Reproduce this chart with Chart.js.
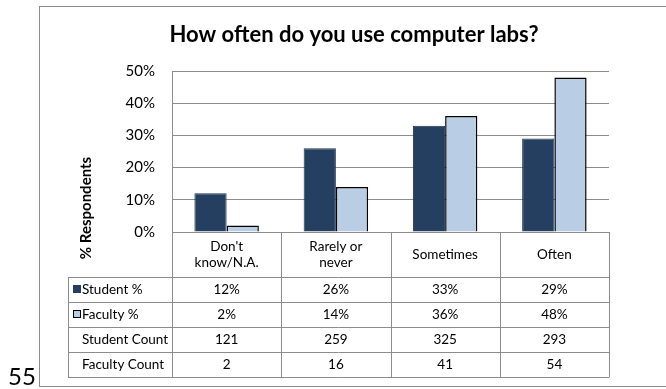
<!DOCTYPE html>
<html lang="en">
<head>
<meta charset="UTF-8">
<title>How often do you use computer labs?</title>
<script src="https://cdn.jsdelivr.net/npm/chart.js"></script>
<style>
  html, body { margin: 0; padding: 0; background: #fff; }
  #wrap { width: 666px; height: 389px; position: relative; }
</style>
</head>
<body>
<div id="wrap"><canvas id="grafico"></canvas></div>
<script>
  const titulo = 'How often do you use computer labs?';
  const yTitle = '% Respondents';
  const categories = [["Don't", "know/N.A."], ["Rarely or", "never"], ["Sometimes"], ["Often"]];
  const studentPct = [12, 26, 33, 29];
  const facultyPct = [2, 14, 36, 48];
  const studentCount = [121, 259, 325, 293];
  const facultyCount = [2, 16, 41, 54];
  const yTicks = [0, 10, 20, 30, 40, 50];
  const pageNumber = '55';

  const FONT = 'Lato, "Open Sans", sans-serif';
  const LINE = '#8c8c8c';
  const DARK = '#243f60';
  const LIGHT = '#b9cde5';

  // linhas da tabela de dados (abaixo do grafico)
  const rows = [
    { label: 'Student %', values: studentPct.map(v => v + '%'), swatch: { fill: DARK, stroke: DARK } },
    { label: 'Faculty %', values: facultyPct.map(v => v + '%'), swatch: { fill: LIGHT, stroke: '#000' } },
    { label: 'Student Count', values: studentCount.map(String) },
    { label: 'Faculty Count', values: facultyCount.map(String) }
  ];

  const px = v => Math.round(v) + 0.5;

  const tablePlugin = {
    id: 'dataTable',
    beforeDraw(chart) {
      const ctx = chart.ctx;
      ctx.save();
      ctx.fillStyle = '#fff';
      ctx.fillRect(0, 0, chart.width, chart.height);
      // moldura do grafico
      ctx.strokeStyle = LINE;
      ctx.lineWidth = 1;
      ctx.strokeRect(39.5, 6.5, chart.width, 380);
      // titulo
      ctx.fillStyle = '#000';
      ctx.font = 'bold 22px ' + FONT;
      ctx.textAlign = 'center';
      ctx.textBaseline = 'alphabetic';
      ctx.fillText(titulo, 354, 42);
      // titulo do eixo y
      ctx.translate(91, 208);
      ctx.rotate(-Math.PI / 2);
      ctx.font = 'bold 15px ' + FONT;
      ctx.fillText(yTitle, 0, 0);
      ctx.restore();
    },
    afterDraw(chart) {
      const { ctx, chartArea, scales: { x } } = chart;
      const colW = (chartArea.right - chartArea.left) / categories.length;
      const headTop = chartArea.bottom;
      const headBottom = headTop + 45;
      const rowH = 25;
      const tableLeft = 68;
      const tableBottom = headBottom + rowH * rows.length;

      ctx.save();
      ctx.strokeStyle = LINE;
      ctx.lineWidth = 1;
      ctx.beginPath();
      // linhas horizontais
      ctx.moveTo(chartArea.left, px(headTop));
      ctx.lineTo(chartArea.right, px(headTop));
      for (let r = 0; r <= rows.length; r++) {
        const y = px(headBottom + r * rowH);
        ctx.moveTo(tableLeft, y);
        ctx.lineTo(chartArea.right, y);
      }
      // linhas verticais
      ctx.moveTo(px(tableLeft), px(headBottom));
      ctx.lineTo(px(tableLeft), px(tableBottom));
      for (let i = 0; i <= categories.length; i++) {
        const xx = px(chartArea.left + i * colW);
        ctx.moveTo(xx, px(headTop));
        ctx.lineTo(xx, px(tableBottom));
      }
      ctx.stroke();

      ctx.fillStyle = '#000';
      ctx.font = '13.5px ' + FONT;
      ctx.textAlign = 'center';
      ctx.textBaseline = 'middle';
      // cabecalho das categorias
      categories.forEach((lines, i) => {
        const cx = x.getPixelForValue(i);
        const cy = (headTop + headBottom) / 2;
        lines.forEach((t, k) => {
          ctx.fillText(t, cx, cy + (k - (lines.length - 1) / 2) * 16);
        });
      });
      // valores
      rows.forEach((row, r) => {
        const cy = headBottom + r * rowH + rowH / 2;
        row.values.forEach((v, i) => ctx.fillText(v, x.getPixelForValue(i), cy));
        ctx.textAlign = 'left';
        ctx.fillText(row.label, 82, cy);
        ctx.textAlign = 'center';
        if (row.swatch) {
          ctx.fillStyle = row.swatch.fill;
          ctx.fillRect(73.5, cy - 4, 7, 7);
          ctx.strokeStyle = row.swatch.stroke;
          ctx.strokeRect(73.5, cy - 4, 7, 7);
          ctx.fillStyle = '#000';
        }
      });

      // numero da pagina
      ctx.textAlign = 'left';
      ctx.textBaseline = 'alphabetic';
      ctx.font = '24px ' + FONT;
      ctx.fillText(pageNumber, 8, 385);
      ctx.restore();
    }
  };

  new Chart(document.getElementById('grafico'), {
    type: 'bar',
    data: {
      labels: categories,
      datasets: [
        {
          label: 'Student %',
          data: studentPct,
          backgroundColor: DARK,
          borderColor: '#1f3550',
          borderWidth: 1,
          categoryPercentage: 0.59,
          barPercentage: 1
        },
        {
          label: 'Faculty %',
          data: facultyPct,
          backgroundColor: LIGHT,
          borderColor: '#000',
          borderWidth: 1.5,
          categoryPercentage: 0.59,
          barPercentage: 1
        }
      ]
    },
    options: {
      responsive: true,
      maintainAspectRatio: false,
      animation: false,
      layout: { padding: { left: 40, right: 57, top: 71, bottom: 157 } },
      plugins: {
        legend: { display: false },
        title: { display: false },
        tooltip: { enabled: false }
      },
      scales: {
        x: {
          grid: { display: false, drawTicks: false },
          ticks: { display: false, padding: 0 },
          border: { color: LINE }
        },
        y: {
          min: yTicks[0],
          max: yTicks[yTicks.length - 1],
          afterBuildTicks: s => { s.ticks = yTicks.map(v => ({ value: v })); },
          afterFit: s => { s.width = 132; },
          ticks: {
            callback: v => v + '%',
            padding: 17,
            color: '#000',
            font: { family: FONT, size: 15 }
          },
          grid: { color: LINE, drawTicks: false },
          border: { color: LINE }
        }
      }
    },
    plugins: [tablePlugin]
  });
</script>
</body>
</html>
